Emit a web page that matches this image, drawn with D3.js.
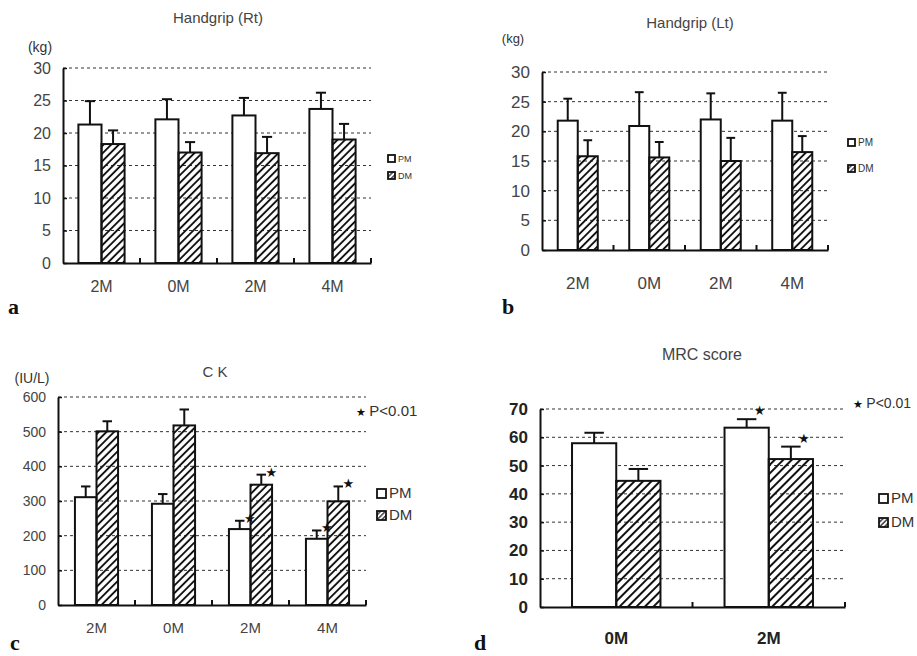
<!DOCTYPE html>
<html>
<head>
<meta charset="utf-8">
<script src="https://cdn.jsdelivr.net/npm/d3@7"></script>
<style>
  body { margin: 0; background: #fff; }
  text { font-family: "Liberation Sans", Arial, sans-serif; }
</style>
</head>
<body>
<svg id="chart" width="917" height="656"></svg>
<script>
// values (mean, upper SD whisker)
let timeLabels = ["2M", "0M", "2M", "4M"]
let mrcLabels = ["0M", "2M"]
let seriesNames = ["PM", "DM"]

let gripRtPM = [21.3, 22.1, 22.7, 23.7]
let gripRtPMErr = [3.6, 3.1, 2.7, 2.5]
let gripRtDM = [18.3, 17.0, 16.9, 19.0]
let gripRtDMErr = [2.1, 1.6, 2.5, 2.4]

let gripLtPM = [21.8, 20.9, 22.0, 21.8]
let gripLtPMErr = [3.7, 5.7, 4.4, 4.7]
let gripLtDM = [15.8, 15.6, 15.0, 16.5]
let gripLtDMErr = [2.7, 2.6, 3.9, 2.7]

let ckPM = [311, 292, 219, 191]
let ckPMErr = [31, 28, 24, 24]
let ckDM = [501, 518, 347, 299]
let ckDMErr = [29, 46, 29, 43]
let ckPMStar = [false, false, true, true]
let ckDMStar = [false, false, true, true]

let mrcPM = [57.9, 63.4]
let mrcPMErr = [3.7, 3.0]
let mrcDM = [44.6, 52.3]
let mrcDMErr = [4.2, 4.4]
let mrcPMStar = [false, true]
let mrcDMStar = [false, true]

let gripTicks = [0, 5, 10, 15, 20, 25, 30]
let ckTicks = [0, 100, 200, 300, 400, 500, 600]
let mrcTicks = [0, 10, 20, 30, 40, 50, 60, 70]

let svg = d3.select("#chart")
let defs = svg.append("defs")

let makeHatch = (id, step, sw) => {
  defs.append("pattern")
      .attr("id", id)
      .attr("patternUnits", "userSpaceOnUse")
      .attr("width", step)
      .attr("height", step)
      .attr("patternTransform", "rotate(45)")
    .append("line")
      .attr("x1", step / 2).attr("y1", 0)
      .attr("x2", step / 2).attr("y2", step)
      .attr("stroke", "#111")
      .attr("stroke-width", sw)
}
makeHatch("hatchA", 5.4, 1.9)
makeHatch("hatchD", 6, 2)
makeHatch("hatchLeg", 3.4, 1.2)

let panels = [
  { letter: "a", letterX: 8, letterY: 314, title: "Handgrip (Rt)", titleX: 218, titleY: 23, titleSize: 15,
    unit: "(kg)", unitX: 40, unitY: 52, unitSize: 14,
    labels: timeLabels, pm: gripRtPM, pmErr: gripRtPMErr, dm: gripRtDM, dmErr: gripRtDMErr,
    ticks: gripTicks, left: 63, right: 371, top: 68, bottom: 263, pair: 0.6,
    tickFont: "Liberation Sans", tickSize: 16, tickWeight: "normal", xLabelSize: 16, xLabelY: 293,
    hatch: "hatchA", legX: 388, legY: [162, 179], legBox: 7, legSize: 9, color: "#444" },
  { letter: "b", letterX: 502, letterY: 314, title: "Handgrip (Lt)", titleX: 690, titleY: 28, titleSize: 15,
    unit: "(kg)", unitX: 513, unitY: 43, unitSize: 13,
    labels: timeLabels, pm: gripLtPM, pmErr: gripLtPMErr, dm: gripLtDM, dmErr: gripLtDMErr,
    ticks: gripTicks, left: 542, right: 828, top: 72, bottom: 250, pair: 0.56,
    tickFont: "Liberation Sans Narrow", tickSize: 17, tickWeight: "normal", xLabelSize: 17, xLabelY: 290,
    hatch: "hatchA", legX: 848, legY: [146, 172], legBox: 7, legSize: 10, color: "#444" },
  { letter: "c", letterX: 10, letterY: 650, title: "C K", titleX: 215, titleY: 377, titleSize: 15,
    unit: "(IU/L)", unitX: 32, unitY: 383, unitSize: 14,
    labels: timeLabels, pm: ckPM, pmErr: ckPMErr, dm: ckDM, dmErr: ckDMErr, pmStar: ckPMStar, dmStar: ckDMStar,
    starDx: 10, starDy: 2, pText: "P<0.01", pX: 356, pY: 416, pSize: 15,
    ticks: ckTicks, left: 58, right: 366, top: 397, bottom: 605, pair: 0.56,
    tickFont: "Liberation Sans Narrow", tickSize: 14, tickWeight: "normal", xLabelSize: 15, xLabelY: 634,
    hatch: "hatchA", legX: 377, legY: [498, 520], legBox: 9, legSize: 15, color: "#444" },
  { letter: "d", letterX: 474, letterY: 650, title: "MRC score", titleX: 702, titleY: 360, titleSize: 16,
    labels: mrcLabels, pm: mrcPM, pmErr: mrcPMErr, dm: mrcDM, dmErr: mrcDMErr, pmStar: mrcPMStar, dmStar: mrcDMStar,
    starDx: 13, starDy: -4, pText: "P<0.01", pX: 853, pY: 408, pSize: 14,
    ticks: mrcTicks, left: 540, right: 845, top: 409, bottom: 607, pair: 0.58,
    tickFont: "Liberation Sans", tickSize: 17, tickWeight: "bold", xLabelSize: 17, xLabelY: 645,
    hatch: "hatchD", legX: 879, legY: [503, 527], legBox: 9, legSize: 15, color: "#222" }
]

let drawPanel = (p) => {
  let g = svg.append("g")
  let idx = d3.range(p.labels.length)

  let x = d3.scaleBand().domain(idx).range([p.left, p.right])
  let pairW = x.bandwidth() * p.pair
  let xSub = d3.scaleBand().domain(seriesNames).range([0, pairW])
  let y = d3.scaleLinear().domain([0, d3.max(p.ticks)]).range([p.bottom, p.top])

  // dashed gridlines
  g.selectAll(".grid")
    .data(p.ticks.slice(1))
    .enter()
    .append("line")
    .attr("x1", p.left).attr("x2", p.right)
    .attr("y1", d => y(d)).attr("y2", d => y(d))
    .attr("stroke", "#333")
    .attr("stroke-dasharray", "3,3")

  // y axis, ticks pointing inward
  let yAxis = d3.axisLeft(y).tickValues(p.ticks).tickSize(-4).tickSizeOuter(0).tickPadding(12)
  let ya = g.append("g").attr("transform", "translate(" + p.left + ",0)").call(yAxis)
  ya.select(".domain").attr("stroke", "#111").attr("stroke-width", 2)
  ya.selectAll(".tick line").attr("stroke", "#111").attr("stroke-width", 1.5)
  ya.selectAll("text")
    .style("font-family", p.tickFont + ", Arial, sans-serif")
    .style("font-size", p.tickSize + "px")
    .style("font-weight", p.tickWeight)
    .attr("fill", p.color)

  // bars
  let rows = []
  idx.forEach(i => {
    rows.push({ i: i, s: "PM", v: p.pm[i], e: p.pmErr[i], star: p.pmStar ? p.pmStar[i] : false })
    rows.push({ i: i, s: "DM", v: p.dm[i], e: p.dmErr[i], star: p.dmStar ? p.dmStar[i] : false })
  })
  let bx = d => x(d.i) + (x.bandwidth() - pairW) / 2 + xSub(d.s)
  let bw = xSub.bandwidth()

  // error whiskers (upper only)
  g.selectAll(".err")
    .data(rows)
    .enter()
    .append("line")
    .attr("x1", d => bx(d) + bw / 2).attr("x2", d => bx(d) + bw / 2)
    .attr("y1", d => y(d.v)).attr("y2", d => y(d.v + d.e))
    .attr("stroke", "#111").attr("stroke-width", 2)
  g.selectAll(".cap")
    .data(rows)
    .enter()
    .append("line")
    .attr("x1", d => bx(d) + bw * 0.28).attr("x2", d => bx(d) + bw * 0.72)
    .attr("y1", d => y(d.v + d.e)).attr("y2", d => y(d.v + d.e))
    .attr("stroke", "#111").attr("stroke-width", 2)

  g.selectAll(".bar")
    .data(rows)
    .enter()
    .append("rect")
    .attr("x", bx)
    .attr("y", d => y(d.v))
    .attr("width", bw)
    .attr("height", d => y(0) - y(d.v))
    .attr("fill", d => d.s == "PM" ? "#fff" : "url(#" + p.hatch + ")")
    .attr("stroke", "#111")
    .attr("stroke-width", 2)

  // significance stars
  g.selectAll(".star")
    .data(rows.filter(d => d.star))
    .enter()
    .append("text")
    .attr("x", d => bx(d) + bw / 2 + p.starDx)
    .attr("y", d => y(d.v + d.e) + p.starDy)
    .attr("text-anchor", "middle")
    .style("font-family", "'DejaVu Sans', sans-serif")
    .style("font-size", "13px")
    .attr("fill", "#111")
    .text("★")

  // x axis line and category labels
  let xa = g.append("g").attr("transform", "translate(0," + p.bottom + ")")
    .call(d3.axisBottom(x).tickSize(0).tickPadding(p.xLabelY - p.bottom - p.xLabelSize * 0.75).tickFormat(i => p.labels[i]))
  xa.select(".domain").attr("stroke", "#111").attr("stroke-width", 2)
  xa.selectAll("text")
    .style("font-size", p.xLabelSize + "px")
    .style("font-weight", p.tickWeight)
    .style("font-family", p.tickFont + ", Arial, sans-serif")
    .attr("fill", p.color)

  // small upward ticks at category boundaries
  g.selectAll(".bound")
    .data(idx.slice(1).concat([idx.length]))
    .enter()
    .append("line")
    .attr("x1", i => i == idx.length ? p.right : x(i))
    .attr("x2", i => i == idx.length ? p.right : x(i))
    .attr("y1", p.bottom).attr("y2", p.bottom - 5)
    .attr("stroke", "#111").attr("stroke-width", 2)

  // titles and labels
  g.append("text").attr("x", p.titleX).attr("y", p.titleY)
    .attr("text-anchor", "middle").style("font-size", p.titleSize + "px")
    .attr("fill", "#444").text(p.title)
  if (p.unit) {
    g.append("text").attr("x", p.unitX).attr("y", p.unitY)
      .attr("text-anchor", "middle").style("font-size", p.unitSize + "px")
      .attr("fill", "#333").text(p.unit)
  }
  if (p.pText) {
    let t = g.append("text").attr("x", p.pX).attr("y", p.pY)
      .style("font-size", p.pSize + "px").attr("fill", "#333")
    t.append("tspan").style("font-family", "'DejaVu Sans', sans-serif")
      .style("font-size", "11px").attr("fill", "#111").text("★ ")
    t.append("tspan").text(p.pText)
  }
  g.append("text").attr("x", p.letterX).attr("y", p.letterY)
    .style("font-family", "'Liberation Serif', 'DejaVu Serif', serif")
    .style("font-weight", "bold").style("font-size", "22px")
    .attr("fill", "#111").text(p.letter)

  // legend
  seriesNames.forEach((s, k) => {
    let ly = p.legY[k]
    g.append("rect")
      .attr("x", p.legX).attr("y", ly - p.legBox)
      .attr("width", p.legBox).attr("height", p.legBox)
      .attr("fill", s == "PM" ? "#fff" : "url(#hatchLeg)")
      .attr("stroke", "#111").attr("stroke-width", 1.8)
    g.append("text")
      .attr("x", p.legX + p.legBox + 3).attr("y", ly)
      .style("font-size", p.legSize + "px")
      .attr("fill", "#333")
      .text(s)
  })
}

panels.forEach(drawPanel)
</script>
</body>
</html>
